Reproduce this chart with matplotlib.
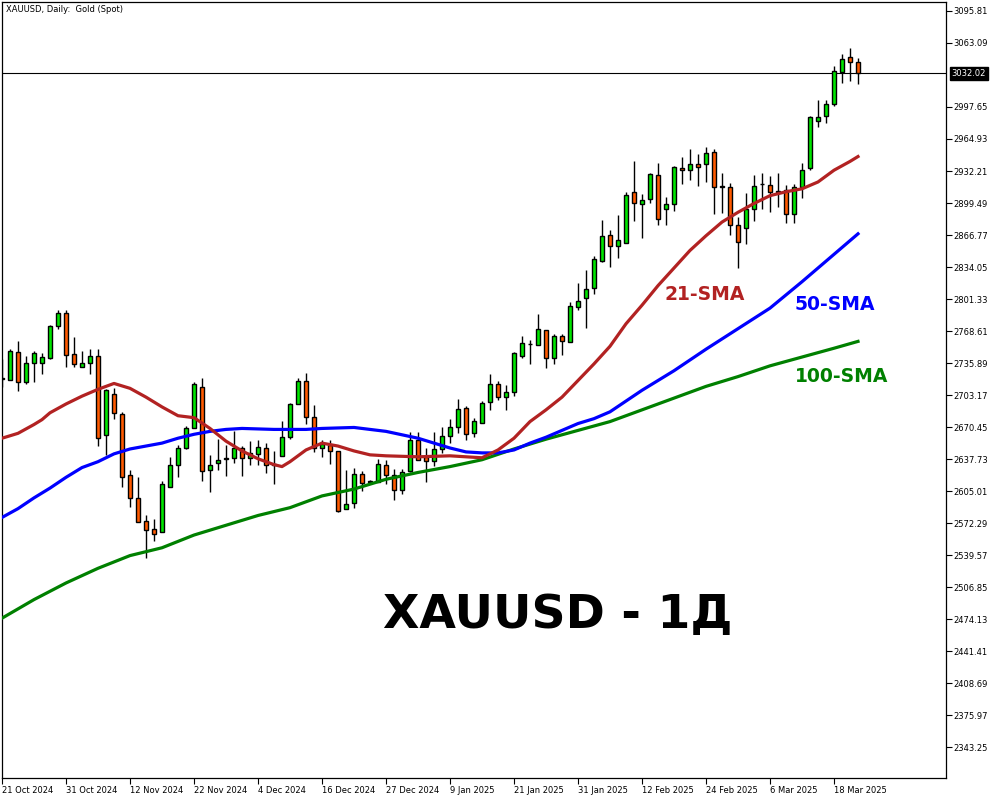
"""XAUUSD daily candles with 21/50/100 SMA, MT5-style, saved to out.png."""

import matplotlib

matplotlib.use("Agg")
import matplotlib.pyplot as plt
import pandas as pd

# trading days shown (25 Dec and 1 Jan have no bar)
dates = [d for d in pd.bdate_range("2024-10-21", "2025-03-21")
         if d.strftime("%m-%d") not in ("12-25", "01-01")]

opens = [2721, 2719, 2747, 2716, 2736, 2736, 2741, 2774, 2787, 2745,
         2732, 2736, 2743, 2662, 2704, 2684, 2621, 2598, 2574, 2566,
         2563, 2609, 2632, 2649, 2669, 2711, 2627, 2634, 2638, 2639,
         2649, 2639, 2643, 2649, 2632, 2641, 2660, 2694, 2717, 2681,
         2649, 2652, 2646, 2587, 2593, 2622, 2614, 2614, 2632, 2621,
         2606, 2625, 2657, 2640, 2636, 2648, 2661, 2670, 2690, 2664,
         2675, 2696, 2714, 2701, 2706, 2743, 2755.5, 2754, 2770, 2741,
         2763, 2757, 2793, 2802, 2813, 2840, 2867, 2856, 2859, 2911,
         2898, 2904, 2928, 2893, 2898, 2935, 2933, 2939, 2939, 2952,
         2916.5, 2916, 2877, 2874, 2893, 2918.5, 2918, 2911.5, 2913, 2888,
         2916, 2935, 2983, 2988, 3001, 3033, 3049, 3044]
highs = [2740, 2750, 2758, 2743, 2748, 2746, 2775, 2790, 2790, 2762,
         2748, 2750, 2750, 2709, 2710, 2686, 2627, 2619, 2581, 2576,
         2615, 2640, 2652, 2672, 2716, 2721, 2642, 2658, 2652, 2666,
         2651, 2656, 2657, 2654, 2646, 2677, 2695, 2721, 2726, 2693,
         2657, 2657, 2646, 2626, 2629, 2625, 2616, 2638, 2637, 2628,
         2628, 2665, 2665, 2649, 2665, 2670, 2679, 2699, 2692, 2680,
         2697, 2725, 2717, 2713, 2747, 2763, 2759, 2786, 2770, 2766,
         2766, 2798, 2818, 2831, 2845, 2882, 2872, 2887, 2911, 2942,
         2909, 2930, 2940, 2906, 2937, 2947, 2955, 2950, 2957, 2955,
         2930, 2920, 2885, 2910, 2928, 2930, 2927, 2930, 2918, 2919,
         2940, 2988, 3005, 3005, 3040, 3052, 3058, 3048]
lows = [2711, 2719, 2707, 2714, 2716, 2725, 2740, 2771, 2732, 2732,
        2732, 2725, 2651, 2642, 2679, 2609, 2589, 2573, 2537, 2554,
        2563, 2609, 2619, 2648, 2669, 2615, 2604, 2627, 2620, 2634,
        2620, 2632, 2632, 2623, 2612, 2641, 2658, 2694, 2674, 2645,
        2640, 2633, 2584, 2587, 2588, 2605, 2613, 2614, 2612, 2596,
        2602, 2624, 2637, 2614, 2631, 2644, 2654, 2664, 2657, 2660,
        2675, 2688, 2698, 2688, 2702, 2741, 2735, 2754, 2731, 2735,
        2744, 2757, 2790, 2772, 2806, 2839, 2834, 2843, 2859, 2881,
        2864, 2899, 2877, 2877, 2891, 2919, 2923, 2917, 2921, 2888,
        2889, 2867, 2833, 2858, 2881, 2893, 2890, 2895, 2879, 2879,
        2905, 2933, 2977, 2981, 2999, 3022, 3024, 3021]
closes = [2720, 2748, 2716, 2736, 2746, 2742, 2774, 2787, 2744, 2735,
          2736, 2743, 2659, 2708, 2685, 2619, 2598, 2573, 2565, 2561,
          2612, 2632, 2649, 2669, 2714, 2625, 2632, 2637, 2639, 2649,
          2639, 2644, 2650, 2632, 2633, 2660, 2694, 2717, 2681, 2649,
          2653, 2646, 2585, 2592, 2622, 2613, 2615, 2633, 2621, 2606,
          2624, 2657, 2637, 2636, 2648, 2661, 2670, 2689, 2663, 2677,
          2695, 2714, 2701, 2706, 2746, 2756, 2755, 2771, 2741, 2763,
          2758, 2794, 2799, 2812, 2842, 2866, 2856, 2862, 2908, 2899,
          2903, 2929, 2883, 2898, 2936, 2933, 2939, 2936, 2951, 2916,
          2916, 2877, 2860, 2893, 2917, 2919, 2911, 2911, 2888, 2916,
          2933, 2987, 2987, 3001, 3034, 3047, 3044, 3032.02]

# moving averages (bar index -> value)
sma21_idx = [0, 2, 4, 5, 6, 8, 10, 12, 14, 16, 18, 20, 22, 24, 26, 28, 30, 32,
             34, 35, 36, 38, 40, 42, 44, 46, 48, 52, 56, 60, 62, 64, 66, 68,
             70, 72, 74, 76, 78, 80, 82, 84, 86, 88, 90, 92, 94, 96, 98, 100,
             102, 104, 106, 107]
sma21 = [2659, 2664, 2673, 2678, 2685, 2694, 2702, 2709, 2715, 2710, 2701,
         2691, 2682, 2680, 2669, 2656, 2646, 2638, 2632, 2630, 2635, 2647,
         2654, 2651, 2646, 2642, 2641, 2640, 2641, 2639, 2647, 2659, 2676,
         2688, 2701, 2718, 2735, 2753, 2776, 2795, 2815, 2833, 2851, 2866,
         2880, 2890, 2899, 2907, 2911, 2914, 2921, 2933, 2942, 2947]

sma50_idx = [0, 2, 4, 6, 8, 10, 12, 14, 16, 18, 20, 22, 24, 26, 28, 30, 34,
             38, 40, 44, 48, 52, 54, 56, 58, 60, 62, 64, 66, 68, 70, 72, 74,
             76, 78, 80, 84, 88, 92, 96, 100, 104, 107]
sma50 = [2578, 2587, 2598, 2608, 2619, 2629, 2635, 2643, 2648, 2651, 2654,
         2659, 2663, 2666, 2668, 2669, 2668, 2668, 2669, 2670, 2666, 2659,
         2654, 2649, 2645, 2644, 2644, 2647, 2654, 2660, 2667, 2674, 2679,
         2686, 2697, 2708, 2728, 2750, 2771, 2792, 2819, 2847, 2868]

sma100_idx = [0, 4, 8, 12, 16, 20, 24, 28, 32, 36, 40, 44, 48, 52, 56, 60,
              64, 68, 72, 76, 80, 84, 88, 92, 96, 100, 104, 107]
sma100 = [2475, 2494, 2511, 2526, 2539, 2547, 2560, 2570, 2580, 2588, 2600,
          2607, 2617, 2624, 2630, 2637, 2648, 2658, 2667, 2676, 2688, 2700,
          2712, 2722, 2733, 2742, 2751, 2758]

price_ticks = [3095.81, 3063.09, 2997.65, 2964.93, 2932.21, 2899.49, 2866.77,
               2834.05, 2801.33, 2768.61, 2735.89, 2703.17, 2670.45, 2637.73,
               2605.01, 2572.29, 2539.57, 2506.85, 2474.13, 2441.41, 2408.69,
               2375.97, 2343.25]
last_price = 3032.02

UP, DOWN = "#00e600", "#ff5a00"


def main():
    fig = plt.figure(figsize=(10, 8), dpi=100)
    ax = fig.add_axes([0.002, 0.0275, 0.944, 0.97])

    idx = list(range(len(closes)))
    colors = [UP if c >= o else DOWN for o, c in zip(opens, closes)]
    bottoms = [min(o, c) for o, c in zip(opens, closes)]
    heights = [abs(c - o) for o, c in zip(opens, closes)]

    ax.vlines(idx, lows, highs, color="black", lw=1, zorder=2)
    ax.bar(idx, heights, bottom=bottoms, width=0.62, color=colors,
           edgecolor="black", linewidth=1, zorder=3)

    ax.plot(sma100_idx, sma100, color="#008000", lw=2.3, zorder=4)
    ax.plot(sma50_idx, sma50, color="#0000ff", lw=2.3, zorder=4)
    ax.plot(sma21_idx, sma21, color="#b22222", lw=2.3, zorder=4)

    ax.axhline(last_price, color="black", lw=0.8, zorder=1)

    ax.text(82.8, 2806, "21-SMA", color="#b22222", fontsize=13.5,
            fontweight="bold", ha="left", va="center")
    ax.text(99.1, 2796, "50-SMA", color="#0000ff", fontsize=13.5,
            fontweight="bold", ha="left", va="center")
    ax.text(99.1, 2722, "100-SMA", color="#008000", fontsize=13.5,
            fontweight="bold", ha="left", va="center")
    ax.text(69.5, 2478, "XAUUSD - 1Д", color="black", fontsize=34,
            fontweight="bold", ha="center", va="center")

    ax.text(0.004, 0.996, "XAUUSD, Daily:  Gold (Spot)", transform=ax.transAxes,
            fontsize=6, ha="left", va="top")

    ax.set_xlim(0, 118)
    ax.set_ylim(2311.6, 3105.0)

    tick_pos = list(range(0, len(dates), 8))
    ax.set_xticks(tick_pos)
    ax.set_xticklabels([f"{dates[i].day} {dates[i]:%b %Y}" for i in tick_pos],
                       ha="left", fontsize=6)
    ax.yaxis.tick_right()
    ax.set_yticks(price_ticks)
    ax.set_yticklabels([f"{p:.2f}" for p in price_ticks], fontsize=6)
    ax.tick_params(direction="out", length=4, width=0.8, pad=1.5)

    ax.annotate(f"{last_price:.2f}", xy=(1, last_price), xycoords=("axes fraction", "data"),
                xytext=(4, 0), textcoords="offset points", fontsize=6, color="white",
                va="center", ha="left",
                bbox=dict(boxstyle="square,pad=0.2", fc="black", ec="black"))

    for s in ax.spines.values():
        s.set_linewidth(0.9)

    fig.savefig("out.png", dpi=100, facecolor="white")


if __name__ == "__main__":
    main()
